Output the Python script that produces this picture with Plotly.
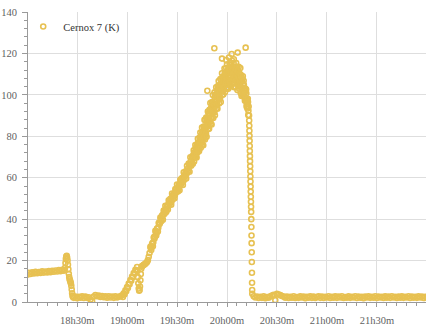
import pandas as pd
import plotly.graph_objects as go

DAY = "2024-03-12"

# Cernox 7 temperature readings (K), grouped into logging runs.
# Each run: start time, sampling step in seconds, readings.
plateau_k = [13.2, 14.1, 13.5, 14.3, 13.8, 14.6, 13.9, 14.5, 14.0, 14.8, 14.2, 14.7,
             14.3, 15.0, 14.4, 15.1, 14.6, 15.2, 14.7, 15.4, 14.9, 15.5, 15.1]

spike_k = [15.6, 16.5, 18.8, 20.8, 22.0, 22.3, 21.4, 20.0, 18.0, 15.8, 13.6, 12.0,
           11.0, 10.4, 9.6, 9.0, 7.8, 6.0, 4.2, 3.0, 2.4]

cold_k = [2.0, 2.6, 1.8, 2.5, 2.1, 2.7, 1.9, 2.6, 2.0, 2.3, 1.2, 0.3, 2.6, 3.4, 2.8,
          3.1, 2.4, 2.9, 2.3, 2.7, 2.1, 2.8, 2.2, 2.6, 2.0, 2.7, 2.2, 2.5, 2.8]

ramp1_k = [3.2, 2.4, 4.2, 3.7, 5.6, 5.2, 7.2, 6.8, 8.9, 8.6, 10.6, 10.3, 12.3, 12.0,
           14.0, 13.6, 15.6, 15.2, 16.9]

dip_k = [15.0, 12.0, 9.0, 6.5, 5.4, 5.8, 7.5, 10.5, 13.5, 16.0, 17.0, 17.4]

settle_k = [17.6, 17.9, 18.2, 18.5, 18.9, 19.3, 20.2, 21.8, 23.6]

ramp2_k = [26.6, 25.1, 28.0, 26.9, 31.1, 30.7, 34.4, 32.1, 35.4, 34.0, 38.1, 37.7,
           40.8, 39.0, 41.6, 39.7, 44.1, 42.6, 46.4, 43.5, 46.1, 44.7, 49.1, 47.3,
           49.8, 47.0, 52.4, 49.6, 52.1, 50.1, 54.5, 53.1, 56.7, 53.3, 56.5, 53.9,
           59.1, 56.8, 59.8, 56.5, 62.6, 59.3, 61.9, 59.6, 65.8, 63.4, 66.8, 62.9,
           69.9, 65.8, 69.6, 66.7]

# second channel read-out, interleaved 15 s after the ramp2 samples
ramp2_mid_k = [26.1, 26.5, 28.5, 28.8, 31.3, 31.6, 33.5, 33.4, 35.4, 35.9, 38.2, 38.2,
               39.9, 39.7, 42.0, 42.0, 43.9, 43.3, 44.9, 44.5, 46.7, 46.8, 48.4, 47.7,
               49.2, 48.7, 51.3, 50.8, 52.2, 51.7, 54.2, 53.5, 54.9, 54.2, 56.7, 56.5,
               58.5, 57.4, 59.2, 58.3, 61.1, 60.7, 63.1, 61.9, 64.2, 63.3, 66.6, 65.9,
               67.9, 66.8, 70.4, 69.4]

peak_k = [73.2, 67.8, 72.2, 70.1, 75.8, 70.3, 74.4, 69.8, 76.1, 73.9, 78.8, 72.5,
          76.2, 72.9, 79.3, 76.0, 81.8, 74.5, 79.5, 76.8,
          84.2, 75.8, 82.0, 75.7, 84.7, 80.0, 87.9, 78.5, 84.4, 80.7, 89.1, 79.8,
          88.0, 85.0, 92.0, 83.6, 89.9, 83.6, 92.8, 87.1,
          96.1, 86.0, 93.6, 85.7, 96.5, 91.3, 99.9, 88.8, 95.5, 91.5, 101.2, 90.1,
          99.6, 94.6, 103.7, 93.7, 100.1, 93.3, 104.2, 99.2, 106.7, 95.8, 104.2, 98.0,
          107.6, 96.5, 104.5, 101.7, 110.4, 100.0, 108.8, 100.2, 106.8, 103.5, 112.7,
          101.2, 110.0, 106.0, 113.0, 103.0,
          114.6, 103.6, 112.1, 102.9, 110.8, 106.8, 115.4, 105.4, 114.4, 104.1, 110.8,
          106.9, 116.6, 105.2, 112.3, 108.6, 115.3, 103.7, 113.6, 105.6, 111.4, 103.8,
          115.4, 106.8, 113.6, 102.3, 108.8, 104.5, 113.5, 103.0, 110.3, 106.0, 113.0,
          100.9, 109.4, 99.5, 106.4, 102.1, 109.0, 99.3,
          106.8, 99.2, 103.2, 97.1, 103.1, 97.8, 102.6, 94.4, 97.9, 93.4, 98.1, 90.3,
          94.4]

# interleaved read-out, 7.5 s after each peak sample
peak_mid_k = [71.8, 70.3, 71.8, 70.5, 74.2, 72.5, 74.2, 71.9, 74.8, 73.6, 76.7, 75.4,
              77.1, 74.8, 77.4, 76.5, 79.7, 77.0, 78.9, 78.6,
              81.8, 78.8, 81.3, 78.5, 84.6, 81.7, 84.3, 81.1, 84.1, 81.4, 87.4, 84.5,
              88.9, 84.8, 87.9, 85.2, 91.3, 88.5, 90.7, 87.0,
              93.1, 89.1, 92.4, 88.8, 96.1, 92.5, 95.5, 91.5, 95.3, 91.9, 98.8, 95.2,
              100.1, 95.3, 98.8, 95.4, 102.3, 98.8, 101.3, 97.6,
              103.8, 98.9, 102.7, 98.8, 105.2, 102.3, 107.2, 102.6, 105.1, 102.2, 107.7,
              102.5, 107.8, 106.3, 110.4, 105.0, 108.5, 104.9, 110.9, 107.2,
              111.5, 105.6, 110.3, 107.3, 113.1, 108.8, 111.9, 106.4, 110.6, 108.6, 113.3,
              107.5, 112.0, 109.8, 113.6, 107.0, 110.9, 107.7, 112.4, 108.7,
              112.5, 106.9, 109.9, 105.7, 111.2, 107.5, 111.8, 106.1, 108.3, 104.5, 109.9,
              106.4, 109.7, 103.4, 107.0, 103.7, 107.8, 101.2, 104.6, 101.1,
              104.9, 100.4, 101.9, 98.3, 101.8, 98.2, 100.8, 95.4, 96.8, 94.0, 96.5, 92.3]

quench_k = [90.0, 87.6, 85.1, 82.7, 80.2, 77.8, 75.3, 72.9, 70.4, 68.0, 65.5, 63.1,
            60.6, 58.2, 55.7, 53.3, 50.8, 48.4, 46.0, 43.5, 40.0, 36.2, 32.1, 28.4,
            24.0, 19.3, 14.1, 9.3, 5.8, 4.0]

base_k = [2.8, 2.2, 2.6, 1.9, 2.5, 2.0, 2.7, 1.8, 2.4, 2.1, 2.7, 3.1, 3.5, 0.9, 3.9,
          3.6, 3.3, 2.9, 2.6, 2.1,
          2.6, 1.9, 2.5, 2.1, 2.8, 1.9, 2.4, 2.0, 2.7, 2.2,
          2.6, 1.8, 2.5, 2.1, 2.7, 2.0, 2.6, 1.9, 2.4, 2.8,
          2.0, 2.6, 1.9, 2.5, 2.2, 2.8, 1.9, 2.5, 2.1, 2.7,
          2.0, 2.6, 2.2, 2.8, 1.9, 2.4, 2.1, 2.7, 2.0, 2.5,
          2.2, 2.8, 1.9, 2.6, 2.1, 2.5, 1.8, 2.6, 2.2, 2.7,
          2.0, 2.5, 2.1, 2.8, 1.9, 2.6, 2.2, 2.5, 1.9, 2.7,
          2.1, 2.6, 2.0, 2.8, 2.2, 2.5, 1.9, 2.6, 2.1, 2.7,
          2.0, 2.5, 2.2, 2.8, 1.9, 2.6, 2.1, 2.5, 2.0, 2.7,
          2.2, 2.6, 1.9, 2.5, 2.1]

runs = [
    ("18:00:00", 60, plateau_k),
    ("18:22:30", 15, spike_k),
    ("18:28:00", 60, cold_k),
    ("18:57:00", 30, ramp1_k),
    ("19:06:15", 15, dip_k),
    ("19:09:30", 30, settle_k),
    ("19:14:00", 30, ramp2_k),
    ("19:14:15", 30, ramp2_mid_k),
    ("19:40:00", 15, peak_k),
    ("19:40:07.5", 15, peak_mid_k),
    ("20:13:15", 4, quench_k),
    ("20:16:00", 60, base_k),
]

# isolated readings around the maximum
stray_times = ["19:48:12", "19:52:24", "19:57:00", "19:59:30", "20:01:12",
               "20:02:48", "20:04:06", "20:06:24", "20:11:12"]
stray_k = [102.0, 122.5, 117.5, 116.8, 118.0, 119.7, 117.2, 120.4, 122.8]

times, kelvin = [], []
for start, step_s, vals in runs:
    t0 = pd.Timestamp(f"{DAY} {start}")
    for i, v in enumerate(vals):
        times.append(t0 + pd.Timedelta(seconds=i * step_s))
        kelvin.append(v)
for ts, v in zip(stray_times, stray_k):
    times.append(pd.Timestamp(f"{DAY} {ts}"))
    kelvin.append(v)

df = pd.DataFrame({"time": times, "K": kelvin}).sort_values("time")

GOLD = "rgb(231,193,82)"
AXIS = "#9a9a9a"
GRID = "#dedede"
SERIF = "Liberation Serif, Times New Roman, serif"
TICKFONT = dict(family=SERIF, size=10.5, color="#5f5f5f")

fig = go.Figure(go.Scatter(
    x=df["time"], y=df["K"], mode="markers", name="Cernox 7 (K)",
    marker=dict(symbol="circle-open", size=5, color=GOLD,
                line=dict(width=1.6, color=GOLD)),
))

fig.update_layout(
    width=426, height=325,
    margin=dict(l=28, r=0, t=12, b=23),
    paper_bgcolor="white", plot_bgcolor="white",
    showlegend=True,
    legend=dict(x=-0.012, y=1.0, xanchor="left", yanchor="top",
                bgcolor="rgba(0,0,0,0)", itemwidth=30,
                font=dict(family=SERIF, size=10.5, color="#333333")),
    # the top edge of the plot carries no grid line
    shapes=[dict(type="line", xref="paper", x0=0, x1=1, yref="y", y0=140, y1=140,
                 line=dict(color="white", width=2), layer="between")],
)

fig.update_xaxes(
    type="date",
    range=[f"{DAY} 18:00:30", f"{DAY} 21:59:30"],
    tick0=f"{DAY} 18:00:00", dtick=30 * 60 * 1000, tickformat="%Hh%Mm",
    showgrid=True, gridcolor=GRID, gridwidth=1,
    showline=True, linecolor=AXIS, linewidth=1,
    ticks="outside", ticklen=4, tickcolor=AXIS, ticklabelstandoff=4,
    minor=dict(tick0=f"{DAY} 18:00:00", dtick=6 * 60 * 1000, ticks="outside",
               ticklen=3, tickcolor=AXIS, showgrid=False),
    tickfont=TICKFONT, zeroline=False,
)

fig.update_yaxes(
    range=[0, 140], tick0=0, dtick=20,
    showgrid=True, gridcolor=GRID, gridwidth=1,
    showline=True, linecolor=AXIS, linewidth=1,
    ticks="outside", ticklen=5, tickcolor=AXIS, ticklabelstandoff=3,
    minor=dict(dtick=4, ticks="outside", ticklen=3, tickcolor=AXIS, showgrid=False),
    tickfont=TICKFONT, zeroline=False,
)

fig.write_html("out.html")
